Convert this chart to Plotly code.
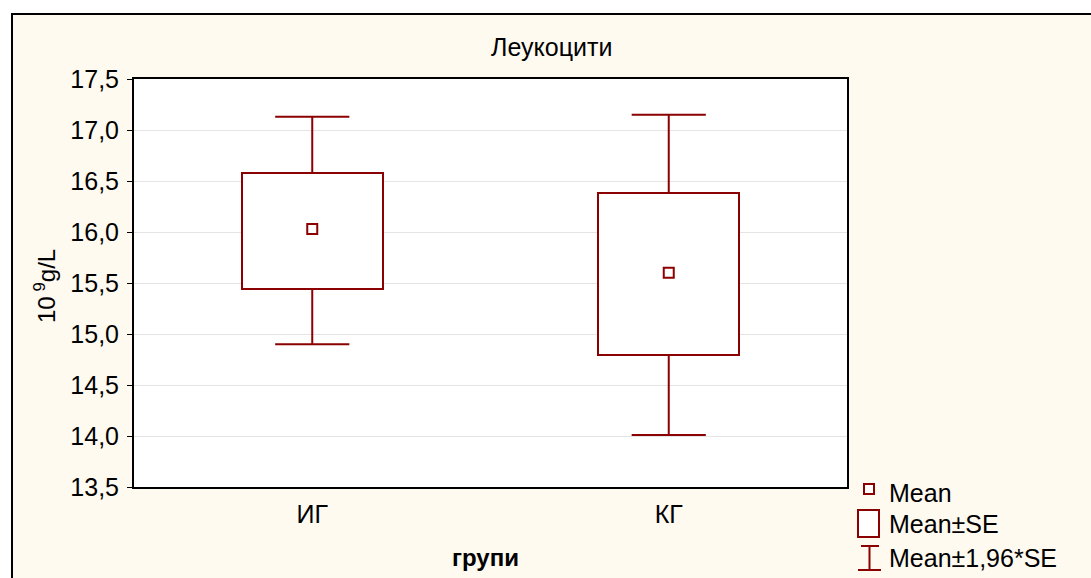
import plotly.graph_objects as go

# ---- data ----
groups = ["ИГ", "КГ"]
mean = [16.03, 15.60]
se_low = [15.44, 14.79]
se_high = [16.58, 16.38]
ci_low = [14.90, 14.01]
ci_high = [17.13, 17.15]
y_ticks = [13.5, 14.0, 14.5, 15.0, 15.5, 16.0, 16.5, 17.0, 17.5]

title = "Леукоцити"
x_title = "групи"
y_title = "10\u2009<sup>9</sup>g/L"
legend_labels = ["Mean", "Mean±SE", "Mean±1,96*SE"]

# ---- layout constants ----
W, H = 1091, 578
L, R, T, B = 134, 847, 79, 487
RED = "#8B0000"
CREAM = "#FFFAF0"
FONT = "Liberation Sans, Arial, sans-serif"
box_w = 0.395
cap_half = 0.104

def px(x):
    return (x - L) / (R - L)

def py(y):
    return (B - y) / (B - T)

xs = list(range(len(groups)))

fig = go.Figure()

# boxes (Mean ± SE)
fig.add_trace(go.Bar(
    x=xs, base=se_low, y=[h - l for h, l in zip(se_high, se_low)],
    width=box_w, marker=dict(color="white", line=dict(color=RED, width=2)),
    showlegend=False, hoverinfo="skip"))

# whiskers (Mean ± 1.96*SE)
wx, wy = [], []
for i in xs:
    wx += [i, i, None, i, i, None,
           i - cap_half, i + cap_half, None, i - cap_half, i + cap_half, None]
    wy += [se_high[i], ci_high[i], None, se_low[i], ci_low[i], None,
           ci_high[i], ci_high[i], None, ci_low[i], ci_low[i], None]
fig.add_trace(go.Scatter(x=wx, y=wy, mode="lines",
                         line=dict(color=RED, width=2),
                         showlegend=False, hoverinfo="skip"))

# means
fig.add_trace(go.Scatter(x=xs, y=mean, mode="markers",
                         marker=dict(symbol="square-open", size=10, color=RED,
                                     line=dict(color=RED, width=2)),
                         showlegend=False))

shapes = [
    dict(type="rect", xref="paper", yref="paper",
         x0=px(12), x1=px(1120), y0=py(14), y1=py(620),
         fillcolor=CREAM, line=dict(color="black", width=2), layer="below"),
    dict(type="rect", xref="paper", yref="paper", x0=0, x1=1, y0=0, y1=1,
         fillcolor="white", line=dict(width=0), layer="below"),
    # legend: Mean marker
    dict(type="rect", xref="paper", yref="paper",
         x0=px(864), x1=px(874), y0=py(484), y1=py(494),
         fillcolor="white", line=dict(color=RED, width=2)),
    # legend: SE box
    dict(type="rect", xref="paper", yref="paper",
         x0=px(858), x1=px(879), y0=py(510), y1=py(537),
         fillcolor="white", line=dict(color=RED, width=2)),
    # legend: I-beam
    dict(type="line", xref="paper", yref="paper",
         x0=px(869.5), x1=px(869.5), y0=py(546), y1=py(570),
         line=dict(color=RED, width=2)),
    dict(type="line", xref="paper", yref="paper",
         x0=px(861), x1=px(879), y0=py(546), y1=py(546),
         line=dict(color=RED, width=2)),
    dict(type="line", xref="paper", yref="paper",
         x0=px(858), x1=px(881), y0=py(570), y1=py(570),
         line=dict(color=RED, width=2)),
]

annotations = [
    dict(text=title, x=px(551), y=py(47), xref="paper", yref="paper",
         showarrow=False, xanchor="center", yanchor="middle",
         font=dict(size=25, color="black", family=FONT)),
    dict(text="<b>" + x_title + "</b>", x=px(485), y=py(557), xref="paper", yref="paper",
         showarrow=False, xanchor="center", yanchor="middle",
         font=dict(size=24, color="black", family=FONT)),
    dict(text=y_title, x=px(45), y=py(286), xref="paper", yref="paper",
         showarrow=False, xanchor="center", yanchor="middle", textangle=-90,
         font=dict(size=24, color="black", family=FONT)),
]
for lbl, yc in zip(legend_labels, [493, 524, 558]):
    annotations.append(dict(text=lbl, x=px(887), y=py(yc), xref="paper", yref="paper",
                            showarrow=False, xanchor="left", yanchor="middle",
                            font=dict(size=25, color="black", family=FONT)))

fig.update_layout(
    width=W, height=H,
    margin=dict(l=L, r=W - R, t=T, b=H - B, pad=0),
    paper_bgcolor="white", plot_bgcolor="white",
    separators=",.",
    font=dict(family=FONT, size=25, color="black"),
    shapes=shapes, annotations=annotations,
    showlegend=False,
    bargap=0,
    xaxis=dict(range=[-0.5, 1.5], tickmode="array", tickvals=xs, ticktext=groups,
               showgrid=False, zeroline=False, showline=True, linecolor="black",
               linewidth=2, mirror=True, ticks="", ticklabelstandoff=4,
               tickfont=dict(size=25, family=FONT, color="black"), fixedrange=True),
    yaxis=dict(range=[13.5, 17.5], tickmode="array", tickvals=y_ticks,
               tickformat=".1f", showgrid=True, gridcolor="#E4E4E4", gridwidth=1,
               zeroline=False, showline=True, linecolor="black", linewidth=2,
               mirror=True, ticks="outside", ticklen=5, tickcolor="black",
               tickwidth=1, ticklabelstandoff=3,
               tickfont=dict(size=25, family=FONT, color="black"), fixedrange=True),
)

fig.write_html("out.html")
